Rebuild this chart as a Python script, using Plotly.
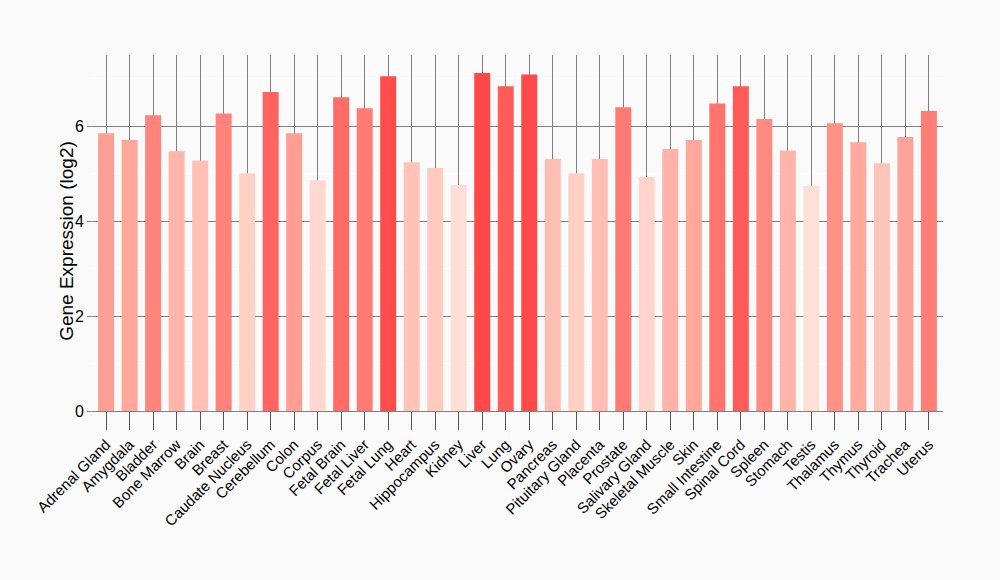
import plotly.graph_objects as go

tissues = ["Adrenal Gland", "Amygdala", "Bladder", "Bone Marrow", "Brain", "Breast",
           "Caudate Nucleus", "Cerebellum", "Colon", "Corpus", "Fetal Brain", "Fetal Liver",
           "Fetal Lung", "Heart", "Hippocampus", "Kidney", "Liver", "Lung", "Ovary",
           "Pancreas", "Pituitary Gland", "Placenta", "Prostate", "Salivary Gland",
           "Skeletal Muscle", "Skin", "Small Intestine", "Spinal Cord", "Spleen", "Stomach",
           "Testis", "Thalamus", "Thymus", "Thyroid", "Trachea", "Uterus"]
expression = [5.85, 5.71, 6.23, 5.47, 5.28, 6.27,
              5.01, 6.72, 5.85, 4.86, 6.61, 6.38,
              7.05, 5.24, 5.12, 4.76, 7.12, 6.84, 7.09,
              5.31, 5.01, 5.31, 6.40, 4.93,
              5.52, 5.71, 6.48, 6.84, 6.15, 5.49,
              4.74, 6.06, 5.66, 5.22, 5.77, 6.32]
y_title = "Gene Expression (log2)"

fig = go.Figure(go.Bar(
    x=tissues, y=expression, width=0.68,
    marker=dict(color=expression,
                colorscale=[[0, "#FFE0D6"], [0.5, "#FF9A8E"], [1, "#FF4848"]],
                line=dict(width=0)),
    hoverinfo="x+y",
))

fig.update_layout(
    width=1000, height=580,
    paper_bgcolor="#FAFAFA", plot_bgcolor="#FAFAFA",
    margin=dict(l=92, r=57, t=55, b=169),
    font=dict(family="Liberation Sans, Arial", color="#000000"),
    showlegend=False, bargap=0.32,
    annotations=[dict(text=y_title, xref="paper", yref="paper", x=0, y=0.478,
                      xshift=-25, xanchor="center", yanchor="middle", textangle=-90,
                      showarrow=False, font=dict(size=19, color="#000000"))],
)
fig.update_xaxes(
    showgrid=True, gridcolor="#808080", gridwidth=1,
    ticks="outside", ticklen=18, tickcolor="#555555", tickwidth=1,
    tickangle=-45, tickfont=dict(size=15, color="#000000"),
    showline=True, linecolor="#808080", linewidth=1,
    range=[-0.6, 35.6],
)
fig.update_yaxes(
    range=[0, 7.5], dtick=2, tick0=0,
    showgrid=True, gridcolor="#808080", gridwidth=1,
    minor=dict(dtick=1, showgrid=True, gridcolor="#FFFFFF", gridwidth=1),
    ticks="outside", ticklen=4, tickcolor="#808080",
    tickfont=dict(size=16, color="#000000"),
    zeroline=False,
)

fig.write_html("out.html", config={"displayModeBar": False},
               post_script="document.body.style.margin='0';document.body.style.background='#FAFAFA';")
